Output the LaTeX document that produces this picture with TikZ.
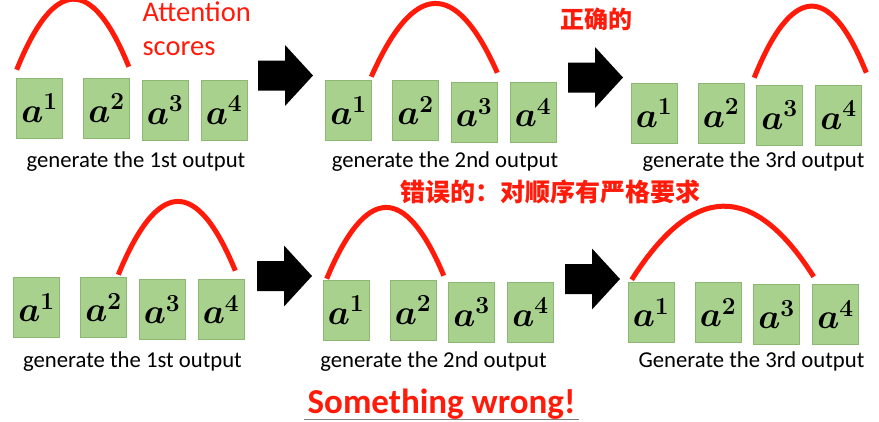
\documentclass[tikz,border=0pt]{standalone}
\usepackage{fix-cm}
\usepackage{fontspec}
\setmainfont{Carlito}
\newfontfamily\cjk{Noto Sans CJK SC}
\usetikzlibrary{positioning}
\definecolor{tokgreen}{HTML}{A9D18E}
\definecolor{tokedge}{HTML}{8CB874}
\definecolor{attnred}{HTML}{FF1A0A}

\begin{document}
\begin{tikzpicture}[x=1pt, y=-1pt,
  tok/.style={draw=tokedge, fill=tokgreen, line width=0.6pt, minimum width=46pt, minimum height=60pt, inner sep=0pt, font=\fontsize{35}{35}\selectfont\boldmath},
  caption/.style={anchor=base, font=\fontsize{22.7}{22.7}\selectfont},
  attn/.style={attnred, line width=5pt},
  note/.style={attnred, anchor=base, font=\cjk\bfseries\fontsize{24}{24}\selectfont},
  blockarrow/.pic={\fill (0,-15) -- (27,-15) -- (27,-30.5) -- (55,0) -- (27,30.5) -- (27,15) -- (0,15) -- cycle;}]
  \useasboundingbox (0,0) rectangle (879,421);

  % four tokens per step
  \foreach \g/\x/\y in {ok1/39.5/108, ok2/348.5/110.5, ok3/654/113, bad1/36.5/307.5, bad2/346/310, bad3/651/312.5}
    \foreach \i/\dx/\dy in {1/0/0, 2/67/0, 3/125.5/2, 4/184.5/2}
      \node[tok] (\g-\i) at (\x+\dx,\y+\dy) {$a^{\i}$};

  \node[caption] (cap-ok1) at (136,167) {generate the 1st output};
  \node[caption] (cap-ok2) at (445,167) {generate the 2nd output};
  \node[caption] (cap-ok3) at (753.5,167) {generate the 3rd output};
  \node[caption] (cap-bad1) at (132.5,367) {generate the 1st output};
  \node[caption] (cap-bad2) at (433.5,367) {generate the 2nd output};
  \node[caption] (cap-bad3) at (751.5,367) {Generate the 3rd output};

  % attention arcs
  \draw[attn] ([shift={(0.5,-8)}]ok1-1.north west) .. controls +(37,-92) and +(-37,-92) .. ([shift={(-1,-11)}]ok1-2.north east);
  \draw[attn] ([shift={(-0.5,-3.5)}]ok2-1.north east) .. controls +(42,-95) and +(-42,-95) .. ([shift={(0,-9.5)}]ok2-3.north east);
  \draw[attn] ([shift={(-2,-7)}]ok3-3.north west) .. controls +(37,-92) and +(-37,-92) .. ([shift={(4.5,-12)}]ok3-4.north east);
  \draw[attn] ([shift={(-8.5,-2.5)}]bad1-2.north east) .. controls +(39,-95) and +(-39,-95) .. ([shift={(-9,-8.5)}]bad1-4.north east);
  \draw[attn] ([shift={(4,-1)}]bad2-1.north west) .. controls +(39,-93) and +(-39,-93) .. ([shift={(7.5,-4)}]bad2-2.north east);
  \draw[attn] ([shift={(4,-2.5)}]bad3-1.north west) .. controls +(61,-96) and +(-61,-96) .. ([shift={(1.5,-7.5)}]bad3-4.north west);

  % step arrows
  \pic at (258,75.5) {blockarrow};
  \pic at (568,77.5) {blockarrow};
  \pic at (257,276) {blockarrow};
  \pic at (565,279) {blockarrow};

  \node[attnred, anchor=base west, font=\fontsize{28.5}{28.5}\selectfont] (att) at (139,21.5) {Attention};
  \node[attnred, anchor=base west, font=\fontsize{28.5}{28.5}\selectfont] (scores) at (139,55) {scores};
  \node[note] (right) at (596,28) {正确的};
  \node[note, font=\cjk\bfseries\fontsize{25}{25}\selectfont] (order) at (550.5,201) {错误的：对顺序有严格要求};
  \node[attnred, anchor=base, font=\bfseries\fontsize{35}{35}\selectfont] (wrong) at (441.5,413) {Something wrong!};
  \draw[gray, line width=1.5pt] ([shift={(0,6.5)}]wrong.base west) -- ([shift={(0,6.5)}]wrong.base east);
\end{tikzpicture}
\end{document}
